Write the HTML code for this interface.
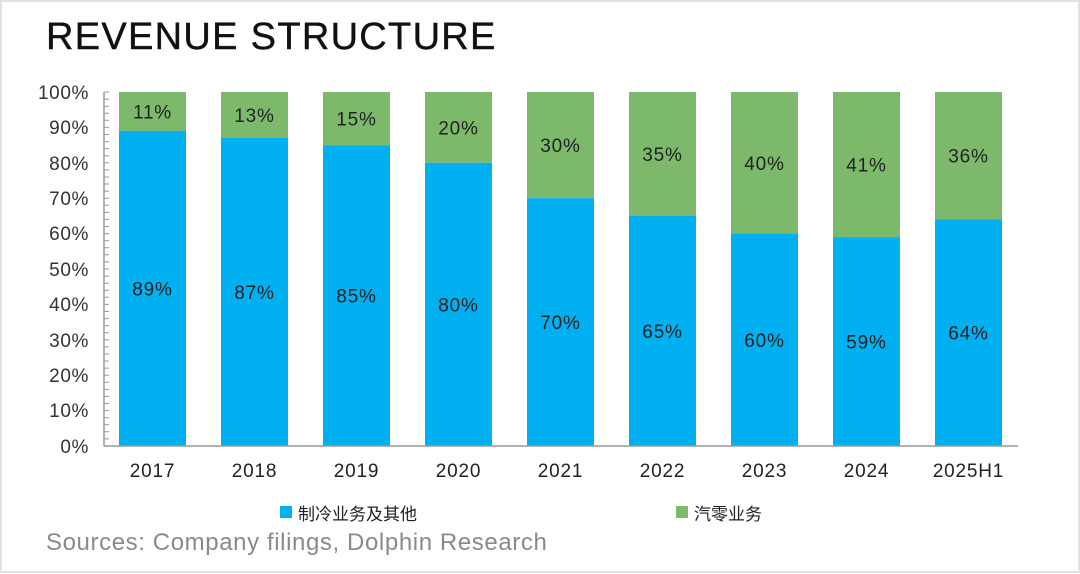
<!DOCTYPE html>
<html><head><meta charset="utf-8"><style>
html,body{margin:0;padding:0;background:#fff}
svg{display:block}
text{font-family:"Liberation Sans","Noto Sans CJK SC",sans-serif}
</style></head><body>
<svg width="1080" height="574" viewBox="0 0 1080 574" xmlns="http://www.w3.org/2000/svg">
<rect x="1" y="1" width="1078" height="571" fill="#fff" stroke="#e2e2e2" stroke-width="2"/>
<text x="46" y="49" font-size="38" fill="#111" letter-spacing="1.3" stroke="#111" stroke-width="0.4">REVENUE STRUCTURE</text>
<g font-size="19" fill="#333" text-anchor="end" letter-spacing="0.6">
<text x="89" y="99">100%</text><text x="89" y="134">90%</text><text x="89" y="170">80%</text><text x="89" y="205">70%</text><text x="89" y="240">60%</text><text x="89" y="276">50%</text><text x="89" y="311">40%</text><text x="89" y="347">30%</text><text x="89" y="382">20%</text><text x="89" y="417">10%</text><text x="89" y="453">0%</text>
</g>
<g id="bars"></g>
<line x1="104" y1="92" x2="104" y2="446" stroke="#999" stroke-width="1.5"/>
<line x1="104" y1="446" x2="1018" y2="446" stroke="#999" stroke-width="1.5"/>
<path id="ticks" stroke="#999" stroke-width="1" fill="none" d=""/>
<g font-size="19" fill="#222" text-anchor="middle" letter-spacing="0.8" id="labels"></g>
<rect x="280" y="506" width="12" height="12" fill="#00B0F0"/>
<text x="298" y="520" font-size="17" fill="#222">制冷业务及其他</text>
<rect x="676" y="506" width="12" height="12" fill="#7DB96A"/>
<text x="694" y="520" font-size="17" fill="#222">汽零业务</text>
<text x="46" y="550" font-size="24" fill="#8a8a8a" letter-spacing="0.6">Sources: Company filings, Dolphin Research</text>
</svg>
<script>
var ns="http://www.w3.org/2000/svg";
var yrs=["2017","2018","2019","2020","2021","2022","2023","2024","2025H1"];
var g=[11,13,15,20,30,35,40,41,36];
var B=document.getElementById("bars"),L=document.getElementById("labels");
function y(p){return 446-3.54*p;}
function el(t,a,par,txt){var e=document.createElementNS(ns,t);for(var k in a)e.setAttribute(k,a[k]);if(txt)e.textContent=txt;par.appendChild(e);return e;}
for(var i=0;i<9;i++){
 var x=119+i*102.0,w=67,b=100-g[i];
 el("rect",{x:x,y:y(100),width:w,height:3.54*g[i],fill:"#7DB96A"},B);
 el("rect",{x:x,y:y(b),width:w,height:3.54*b,fill:"#00B0F0"},B);
 el("text",{x:x+w/2,y:(y(100)+y(b))/2+7},L,g[i]+"%");
 el("text",{x:x+w/2,y:(y(b)+446)/2+7},L,b+"%");
 el("text",{x:x+w/2,y:477},L,yrs[i]);
}
var d="";for(var p=0;p<=100;p+=2){var yy=y(p).toFixed(1);d+="M104 "+yy+"h5 ";}
document.getElementById("ticks").setAttribute("d",d);
</script>
</body></html>
